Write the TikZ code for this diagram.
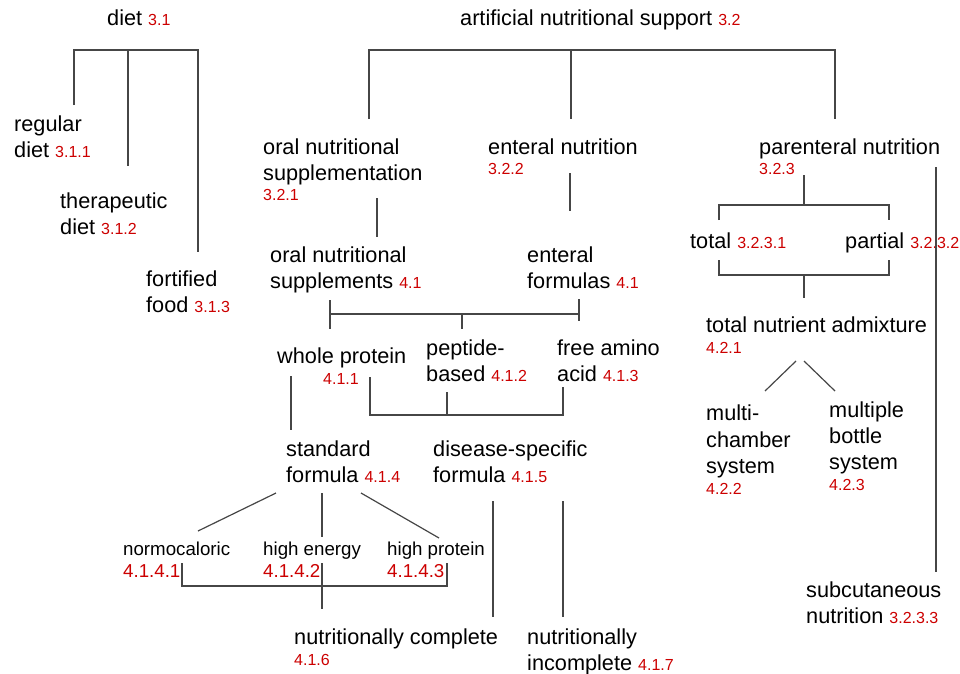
\documentclass[tikz,border=0pt]{standalone}
\usepackage{fontspec}
\setmainfont{Liberation Sans}
\definecolor{numred}{RGB}{204,0,0}
\definecolor{linegray}{RGB}{70,70,70}
\newcommand{\nm}[1]{{\fontsize{16}{19}\selectfont\textcolor{numred}{#1}}}
\newcommand{\snm}[1]{{\fontsize{18.7}{22}\selectfont\textcolor{numred}{#1}}}
\begin{document}
\begin{tikzpicture}[x=1pt,y=-1pt,
  lbl/.style={anchor=base west,inner sep=0pt,font=\fontsize{21.7}{26}\selectfont},
  nlbl/.style={anchor=base west,inner sep=0pt,font=\fontsize{16}{19}\selectfont,text=numred},
  slbl/.style={anchor=base west,inner sep=0pt,font=\fontsize{18.7}{22}\selectfont},
  snlbl/.style={anchor=base west,inner sep=0pt,font=\fontsize{18.7}{22}\selectfont,text=numred},
  conn/.style={draw=linegray,line width=1.2pt}]
\useasboundingbox (0,0) rectangle (960,673);
% ---------- labels ----------
\node[lbl] (diet) at (107,25) {diet \nm{3.1}};
\node[lbl] (ans) at (460,25) {artificial nutritional support \nm{3.2}};
\node[lbl] (reg1) at (14,131) {regular};
\node[lbl] (reg2) at (14,157) {diet \nm{3.1.1}};
\node[lbl] (ther1) at (60,208) {therapeutic};
\node[lbl] (ther2) at (60,234) {diet \nm{3.1.2}};
\node[lbl] (fort1) at (146,286) {fortified};
\node[lbl] (fort2) at (146,312) {food \nm{3.1.3}};
\node[lbl] (os1) at (263,154) {oral nutritional};
\node[lbl] (os2) at (263,180) {supplementation};
\node[nlbl] (os3) at (263,200) {3.2.1};
\node[lbl] (en1) at (488,154) {enteral nutrition};
\node[nlbl] (en2) at (488,174) {3.2.2};
\node[lbl] (pn1) at (759,154) {parenteral nutrition};
\node[nlbl] (pn2) at (759,174) {3.2.3};
\node[lbl] (ons1) at (270,262) {oral nutritional};
\node[lbl] (ons2) at (270,288) {supplements \nm{4.1}};
\node[lbl] (ef1) at (527,262) {enteral};
\node[lbl] (ef2) at (527,288) {formulas \nm{4.1}};
\node[lbl] (wp1) at (277,363) {whole protein};
\node[nlbl] (wp2) at (323,384) {4.1.1};
\node[lbl] (pb1) at (426,355) {peptide-};
\node[lbl] (pb2) at (426,381) {based \nm{4.1.2}};
\node[lbl] (fa1) at (557,355) {free amino};
\node[lbl] (fa2) at (557,381) {acid \nm{4.1.3}};
\node[lbl] (sf1) at (286,456) {standard};
\node[lbl] (sf2) at (286,482) {formula \nm{4.1.4}};
\node[lbl] (ds1) at (433,456) {disease-specific};
\node[lbl] (ds2) at (433,482) {formula \nm{4.1.5}};
\node[slbl] (nc1) at (123,555) {normocaloric};
\node[snlbl] (nc2) at (123,577) {4.1.4.1};
\node[slbl] (he1) at (263,555) {high energy};
\node[snlbl] (he2) at (263,577) {4.1.4.2};
\node[slbl] (hp1) at (387,555) {high protein};
\node[snlbl] (hp2) at (387,577) {4.1.4.3};
\node[lbl] (ncomp1) at (294,644) {nutritionally complete};
\node[nlbl] (ncomp2) at (294,665) {4.1.6};
\node[lbl] (ninc1) at (527,644) {nutritionally};
\node[lbl] (ninc2) at (527,670) {incomplete \nm{4.1.7}};
\node[lbl] (tot) at (690,248) {total \nm{3.2.3.1}};
\node[lbl] (par) at (845,248) {partial \nm{3.2.3.2}};
\node[lbl] (tna1) at (706,332) {total nutrient admixture};
\node[nlbl] (tna2) at (706,353) {4.2.1};
\node[lbl] (mc1) at (706,420) {multi-};
\node[lbl] (mc2) at (706,447) {chamber};
\node[lbl] (mc3) at (706,473) {system};
\node[nlbl] (mc4) at (706,494) {4.2.2};
\node[lbl] (mb1) at (829,417) {multiple};
\node[lbl] (mb2) at (829,443) {bottle};
\node[lbl] (mb3) at (829,469) {system};
\node[nlbl] (mb4) at (829,490) {4.2.3};
\node[lbl] (sc1) at (806,597) {subcutaneous};
\node[lbl] (sc2) at (806,623) {nutrition \nm{3.2.3.3}};
% ---------- connector points ----------
\coordinate (dL) at (74,50); \coordinate (dM) at (128,50); \coordinate (dR) at (198,50);
\coordinate (dLe) at (74,105); \coordinate (dMe) at (128,166); \coordinate (dRe) at (198,252);
\coordinate (aL) at (369,50); \coordinate (aM) at (571,50); \coordinate (aR) at (835,50);
\coordinate (aLe) at (369,119); \coordinate (aMe) at (571,119); \coordinate (aRe) at (835,119);
\coordinate (osA) at (377,198); \coordinate (osB) at (377,237);
\coordinate (enA) at (570,173); \coordinate (enB) at (570,211);
\coordinate (b1L) at (330,300); \coordinate (b1Lb) at (330,329);
\coordinate (b1R) at (579,299); \coordinate (b1Rb) at (579,321);
\coordinate (b1hL) at (330,314); \coordinate (b1hR) at (579,314);
\coordinate (b1M) at (462,314); \coordinate (b1Mb) at (462,329);
\coordinate (b2L) at (370,377); \coordinate (b2LB) at (370,415);
\coordinate (b2R) at (563,387); \coordinate (b2RB) at (563,415);
\coordinate (b2M) at (447,392); \coordinate (b2MB) at (447,415);
\coordinate (wpA) at (291,376); \coordinate (wpB) at (291,430);
\coordinate (sfL) at (276,493); \coordinate (sfLe) at (198,531);
\coordinate (sfM) at (322,493); \coordinate (sfMe) at (322,537);
\coordinate (sfR) at (361,493); \coordinate (sfRe) at (439,538);
\coordinate (b3L) at (182,563); \coordinate (b3LB) at (182,586);
\coordinate (b3R) at (447,563); \coordinate (b3RB) at (447,586);
\coordinate (b3M) at (322,563); \coordinate (b3MB) at (322,609);
\coordinate (dsA) at (493,501); \coordinate (dsAe) at (493,617);
\coordinate (dsB) at (563,501); \coordinate (dsBe) at (563,617);
\coordinate (pnA) at (804,175); \coordinate (pnB) at (804,205);
\coordinate (b4L) at (719,205); \coordinate (b4Lb) at (719,220);
\coordinate (b4R) at (889,205); \coordinate (b4Rb) at (889,220);
\coordinate (b5L) at (719,260); \coordinate (b5LB) at (719,275);
\coordinate (b5R) at (889,260); \coordinate (b5RB) at (889,275);
\coordinate (b5M) at (804,275); \coordinate (b5Mb) at (804,298);
\coordinate (tnaL) at (796,361); \coordinate (tnaLe) at (765,391);
\coordinate (tnaR) at (804,361); \coordinate (tnaRe) at (835,391);
\coordinate (scA) at (936,167); \coordinate (scB) at (936,572);
% ---------- connectors ----------
\draw[conn] (dLe) -- (dL) -- (dR) -- (dRe);
\draw[conn] (dM) -- (dMe);
\draw[conn] (aLe) -- (aL) -- (aR) -- (aRe);
\draw[conn] (aM) -- (aMe);
\draw[conn] (osA) -- (osB);
\draw[conn] (enA) -- (enB);
\draw[conn] (b1L) -- (b1Lb);
\draw[conn] (b1R) -- (b1Rb);
\draw[conn] (b1hL) -- (b1hR);
\draw[conn] (b1M) -- (b1Mb);
\draw[conn] (b2L) -- (b2LB) -- (b2RB) -- (b2R);
\draw[conn] (b2M) -- (b2MB);
\draw[conn] (wpA) -- (wpB);
\draw[conn] (sfL) -- (sfLe);
\draw[conn] (sfM) -- (sfMe);
\draw[conn] (sfR) -- (sfRe);
\draw[conn] (b3L) -- (b3LB) -- (b3RB) -- (b3R);
\draw[conn] (b3M) -- (b3MB);
\draw[conn] (dsA) -- (dsAe);
\draw[conn] (dsB) -- (dsBe);
\draw[conn] (pnA) -- (pnB);
\draw[conn] (b4Lb) -- (b4L) -- (b4R) -- (b4Rb);
\draw[conn] (b5L) -- (b5LB) -- (b5RB) -- (b5R);
\draw[conn] (b5M) -- (b5Mb);
\draw[conn] (tnaL) -- (tnaLe);
\draw[conn] (tnaR) -- (tnaRe);
\draw[conn] (scA) -- (scB);
\end{tikzpicture}
\end{document}
